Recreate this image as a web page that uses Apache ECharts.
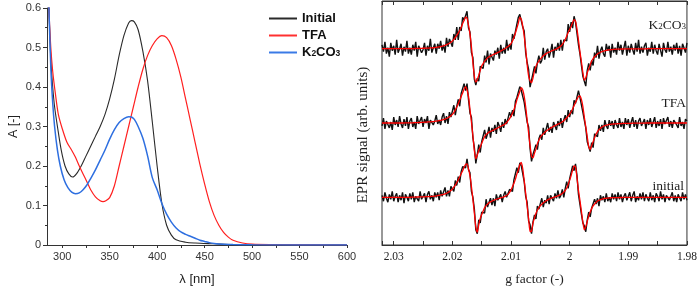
<!DOCTYPE html>
<html><head><meta charset="utf-8">
<script src="https://cdn.jsdelivr.net/npm/echarts@6/dist/echarts.min.js"></script>
<style>html,body{margin:0;padding:0;background:#fff}#c{width:700px;height:291px}</style>
</head><body><div id="c"></div>
<script>
// ---------- UV-Vis panel (left) ----------
const uvInitialNm = [284,286,288,290,292,295,299,303,307,311,315,320,325,330,335,340,345,350,355,360,365,370,373,376,380,385,390,395,400,405,410,415,420,430,440,460,480,520,600];
const uvInitialA  = [0.75,0.6,0.47,0.40,0.35,0.30,0.24,0.20,0.18,0.172,0.18,0.2,0.225,0.25,0.275,0.30,0.33,0.37,0.42,0.48,0.53,0.562,0.568,0.565,0.545,0.49,0.415,0.31,0.2,0.105,0.05,0.025,0.013,0.007,0.005,0.003,0.001,0.0003,0];
const uvTfaNm = [284,286,288,290,293,296,300,305,310,314,318,322,326,330,335,340,343,346,350,355,360,365,370,375,380,385,390,395,400,405,410,415,420,425,430,435,440,445,450,455,460,465,470,475,480,490,500,520,600];
const uvTfaA  = [0.75,0.6,0.5,0.44,0.38,0.33,0.295,0.26,0.24,0.222,0.2,0.18,0.16,0.14,0.122,0.112,0.11,0.112,0.12,0.15,0.2,0.25,0.3,0.35,0.4,0.445,0.48,0.505,0.522,0.53,0.525,0.505,0.47,0.425,0.37,0.315,0.26,0.205,0.155,0.11,0.075,0.05,0.032,0.02,0.012,0.005,0.002,0.001,0];
const uvK2co3Nm = [284,286,288,290,292,295,298,302,306,310,314,318,322,326,330,335,340,345,350,355,360,365,370,373,376,380,385,390,395,400,405,410,415,420,425,430,435,440,445,450,455,460,470,480,500,600];
const uvK2co3A  = [0.75,0.6,0.45,0.36,0.30,0.24,0.2,0.165,0.145,0.134,0.13,0.132,0.14,0.152,0.168,0.19,0.215,0.24,0.268,0.292,0.31,0.32,0.325,0.324,0.318,0.3,0.27,0.225,0.17,0.14,0.105,0.078,0.058,0.043,0.033,0.027,0.022,0.017,0.012,0.009,0.006,0.004,0.002,0.001,0.0005,0];
const uvTicks = [300,325,350,375,400,425,450,475,500,525,550,575,600];
const uvLabels = [300,350,400,450,500,550,600];

// ---------- EPR panel (right): g grid sampled from 2.032 down to 1.980 ----------
const gStart = 2.032, gStep = -0.00025;   // 209 samples
const eprK2co3Raw = [
4,-3,7,-5,1,-8,6,-2,3,-6,9,-4,0,5,-7,2,-3,8,-5,1,
-6,4,-2,7,-8,3,5,-4,-1,6,-7,3,-2,10,-4,1,5,-5,5,0,
8,-2,4,-4,11,2,10,6,2,15,9,22,9,22,18,32,29,27,38,21,
17,-4,-9,-31,-37,-30,-33,-18,-17,-20,-7,-14,-2,-16,-5,-3,-12,-2,-6,1,
-10,4,-5,1,-5,9,-2,5,-1,15,10,11,25,32,35,33,22,18,-4,-14,
-21,-39,-32,-32,-18,-25,-14,-7,-15,-12,1,-11,-3,0,-9,-3,5,-9,2,-2,
6,-2,9,-2,9,10,8,25,17,27,21,33,27,27,4,-5,-7,-28,-27,-38,
-22,-15,-22,-12,-17,-4,-9,3,-10,-2,2,-5,-8,5,-2,3,-9,5,-4,1,
-6,7,-2,4,-6,1,8,-7,3,-4,5,-1,-6,6,-3,9,-5,2,-4,3,
6,-7,1,-3,7,-5,4,-2,-6,5,3,-8,6,-1,-4,7,-3,2,-6,4,
-2,6,-5,3,-7,5,1,-4,6];
const eprK2co3Fit = [
0,0,0,0,0,0,0,0,0,0,0,0,0,0,0,0,0,0,0,0,
0.1,0.1,0.2,0.2,0.3,0.3,0.4,0.4,0.5,0.5,0.6,0.7,0.7,0.8,0.9,1.0,1.2,1.4,1.6,1.9,
2.2,2.6,3.0,3.5,4.2,4.8,5.6,6.6,7.8,9.5,11.4,13.5,16,18.5,21.5,25.5,29,32,31,24,
15,2,-14,-28,-34,-31.5,-27,-22,-17.5,-15,-12.5,-11,-9.2,-8.2,-7.4,-6.6,-5.8,-5.2,-4.5,-3.8,
-3.1,-2.3,-1.5,-0.7,0.2,1.2,2.2,3.6,5.3,7.8,11.5,16,21,26,32,30,23,13,0,-16,
-27.5,-32.5,-34.5,-29.5,-22.5,-18,-14.8,-12.5,-10.5,-8.8,-7.2,-6.0,-5.0,-4.1,-3.4,-2.7,-2.0,-1.4,-0.8,-0.2,
0.6,1.6,2.8,4.5,6.6,9.3,12.8,16.5,19.5,22.8,26.5,29.5,28,20,9,-3,-13,-24,-32,-29.5,
-24.5,-20.5,-16.5,-12.5,-10,-8.2,-6.6,-5.3,-4.4,-3.6,-2.9,-2.4,-2,-1.6,-1.3,-1.1,-0.9,-0.8,-0.7,-0.6,
-0.5,-0.4,-0.4,-0.3,-0.3,-0.3,-0.2,-0.2,-0.2,-0.2,-0.2,-0.2,-0.2,-0.1,-0.1,-0.1,-0.1,-0.1,-0.1,-0.1,
-0.1,0,0,0,0,0,0,0,0,0,0,0,0,0,0,0,0,0,0,0,
0,0,0,0,0,0,0,0,0];
const eprTfaRaw = [
-3,5,-6,2,4,-5,1,-7,6,-2,3,-4,7,-1,-5,4,-3,6,-6,2,
5,-4,1,-6,7,-1,-2,6,-4,4,0,7,-6,3,5,-2,2,8,-1,3,
-2,6,10,0,7,-1,11,6,6,18,8,17,24,17,30,29,40,33,40,24,
10,6,-15,-25,-41,-32,-22,-30,-19,-20,-7,-16,-11,-4,-15,-5,-9,-2,-11,1,
-3,-9,1,-5,4,-1,-3,11,6,13,7,22,26,24,37,33,35,21,21,1,
-4,-26,-39,-32,-32,-22,-27,-16,-12,-17,-5,-12,-13,0,-9,-4,-10,1,-1,-7,
2,-3,5,-5,3,8,1,13,6,13,9,23,20,20,33,26,27,11,10,-5,
-19,-18,-29,-20,-25,-11,-11,-14,-2,-8,-2,-9,3,-3,-6,3,-3,2,-6,3,
-2,-5,5,-4,1,-6,5,-2,4,-5,1,6,-4,3,-6,2,5,-3,-1,4,
-6,3,-2,5,-4,1,6,-5,2,-3,4,-6,5,-1,-3,6,-4,2,-5,3,
4,-2,-5,6,-3,1,-6,4,2];
const eprTfaFit = [
0,0,0,0,0,0,0,0,0,0,0,0,0,0,0,0,0.1,0.1,0.1,0.1,
0.2,0.2,0.3,0.3,0.4,0.5,0.5,0.6,0.7,0.8,0.9,1.0,1.1,1.2,1.4,1.5,1.7,1.9,2.1,2.4,
2.7,3.1,3.5,4.0,4.6,5.3,6.2,7.3,8.8,10.6,13.3,16.2,19.5,23.3,27,30.5,34.5,37,33.5,27,
14,1,-13,-28,-36.5,-32.5,-28,-24.5,-20.5,-17,-13.8,-11.8,-10.5,-9.3,-8.6,-7.9,-7.2,-6.4,-5.8,-5.1,
-4.1,-3.3,-2.6,-1.9,-0.9,0.5,2.4,4.5,7,10,13.5,18,23.5,28,32,36,33.5,27,16.5,3,
-10,-23,-34,-35.5,-30.5,-26.5,-21,-17.5,-14.5,-12.6,-11,-9.5,-8.1,-7.1,-6.2,-5.2,-4.2,-3.4,-2.6,-1.9,
-1.2,-0.5,0.2,1.2,2.4,3.8,5.3,7,8.8,11.4,14.3,17.5,21,24,27,27.5,24,17,6,-4,
-14,-24,-27,-23,-19,-15,-11.5,-8.7,-6.8,-5.3,-4.2,-3.3,-2.7,-2.2,-1.8,-1.5,-1.3,-1.1,-1.0,-0.9,
-0.8,-0.7,-0.6,-0.6,-0.5,-0.4,-0.4,-0.4,-0.3,-0.3,-0.3,-0.2,-0.2,-0.2,-0.2,-0.1,-0.1,-0.1,-0.1,-0.1,
0,0,0,0,0,0,0,0,0,0,0,0,0,0,0,0,0,0,0,0,
0,0,0,0,0,0,0,0,0];
const eprInitialRaw = [
2,-4,5,-1,-5,3,-2,6,-4,1,4,-5,2,-3,5,-6,3,0,-4,4,
-2,5,-5,1,3,-4,6,-2,-3,4,-5,3,6,-2,2,-4,5,0,5,-3,
7,1,-1,10,1,7,1,11,9,6,17,12,21,15,26,31,29,30,39,28,
25,6,0,-12,-33,-37,-23,-26,-15,-16,-16,-2,-10,-5,-1,-8,-1,-9,3,-3,
-4,3,-5,2,6,0,-1,8,9,6,18,17,30,25,35,32,34,16,1,-5,
-24,-28,-37,-25,-18,-22,-9,-12,-12,-1,-10,-3,-6,2,-7,2,0,-4,4,-1,
7,-1,2,8,0,9,16,9,19,20,32,27,34,22,3,2,-17,-26,-29,-35,
-23,-15,-20,-11,-12,-2,-7,-1,-9,2,-3,1,-5,4,-4,0,-5,4,-2,3,
-4,5,-2,3,-5,1,4,-3,-2,5,-4,2,6,-5,1,-3,4,-2,5,-4,
3,-1,-4,5,-3,2,-5,4,1,-4,6,-2,3,-5,2,4,-3,-1,5,-4,
2,-5,3,1,-4,5,-2,3,-3];
const eprInitialFit = [
0,0,0,0,0,0,0,0,0,0,0,0,0,0,0,0,0,0,0,0,
0.1,0.1,0.2,0.2,0.3,0.3,0.4,0.4,0.5,0.5,0.6,0.7,0.7,0.8,0.9,1.0,1.2,1.4,1.7,2.0,
2.3,2.6,3.0,3.5,4.1,4.9,5.8,6.9,8.3,10.3,12.3,15,17.8,20.8,24,27,30.5,33.5,34,29,
22,11,-2,-16,-30,-35.5,-28,-21.5,-17.5,-14,-10.5,-8.4,-7,-5.5,-4.6,-3.9,-3.2,-2.5,-2,-1.5,
-1,-0.6,-0.1,0.4,1,1.8,3,4.9,7.5,10.8,14.3,18.5,23.8,28,33,35.5,29,17,4,-9,
-22,-35,-34.5,-26,-21,-16.5,-13,-10.5,-8.5,-7,-5.6,-4.6,-3.6,-2.6,-1.8,-1.1,-0.5,0,0.4,0.9,
1.5,2.2,3,3.9,5.2,7,9.5,13,17.5,22,27.5,32,31,20,7,-3,-14,-25,-33,-30,
-24.5,-19,-15,-11.5,-8.8,-6.8,-5.3,-3.7,-3,-2.4,-1.8,-1.4,-1.2,-1,-0.8,-0.6,-0.5,-0.4,-0.4,-0.3,
-0.3,-0.3,-0.2,-0.2,-0.2,-0.1,-0.1,-0.1,-0.1,-0.1,-0.1,-0.1,-0.1,-0.1,-0.1,-0.1,-0.1,-0.1,-0.1,-0.1,
0,0,0,0,0,0,0,0,0,0,0,0,0,0,0,0,0,0,0,0,
0,0,0,0,0,0,0,0,0];

// vertical stacking of the three EPR traces (arbitrary offset, as in the figure)
const eprOffset = {k2co3: 199.5, tfa: 124, initial: 48.5};

const zip = (xs, ys) => xs.map((x, i) => [x, ys[i]]);
const eprPairs = (vals, off) => vals.map((v, i) => [+(gStart + gStep * i).toFixed(5), v + off]);

const sans = 'Liberation Sans, Arial, sans-serif';
const serif = 'Liberation Serif, Times New Roman, serif';
const axisCol = '#333';

const chart = echarts.init(document.getElementById('c'), null, {renderer: 'canvas'});

chart.setOption({
  animation: false,
  backgroundColor: '#fff',
  grid: [
    {left: 47, top: 8, width: 300, height: 241},
    {left: 382, top: 1, width: 308, height: 248, show: true, borderColor: '#333', borderWidth: 1}
  ],
  legend: {
    left: 264, top: 7, orient: 'vertical', icon: 'rect', itemWidth: 28, itemHeight: 2, itemGap: 4,
    data: ['Initial', 'TFA', 'K2CO3'],
    formatter: n => n === 'K2CO3' ? '{b|K}{s|2}{b|CO}{s|3}' : '{b|' + n + '}',
    textStyle: {rich: {
      b: {fontFamily: sans, fontSize: 13, fontWeight: 'bold', color: '#111', lineHeight: 12},
      s: {fontFamily: sans, fontSize: 8.5, fontWeight: 'bold', color: '#111', lineHeight: 4, verticalAlign: 'bottom'}
    }}
  },
  xAxis: [
    {gridIndex: 0, type: 'value', min: 284, max: 600,
     axisLine: {lineStyle: {color: axisCol, width: 1}},
     axisTick: {show: true, customValues: uvTicks, length: 3, lineStyle: {color: axisCol}},
     axisLabel: {customValues: uvLabels, fontFamily: sans, fontSize: 11, color: '#333', margin: 6},
     splitLine: {show: false},
     name: 'λ [nm]', nameLocation: 'middle', nameGap: 28,
     nameTextStyle: {fontFamily: sans, fontSize: 13, color: '#222'}},
    {gridIndex: 1, type: 'value', min: 1.98, max: 2.032, interval: 0.01, inverse: true,
     axisLine: {onZero: false, lineStyle: {color: axisCol}},
     axisTick: {inside: true, length: 4, lineStyle: {color: axisCol}},
     minorTick: {show: true, splitNumber: 2, length: 4, lineStyle: {color: axisCol}},
     axisLabel: {formatter: v => String(+v.toFixed(2)), fontFamily: serif, fontSize: 11.5, color: '#222', margin: 6},
     splitLine: {show: false}, minorSplitLine: {show: false},
     name: 'g factor (-)', nameLocation: 'middle', nameGap: 27,
     nameTextStyle: {fontFamily: serif, fontSize: 13.5, color: '#222'}},
    {gridIndex: 1, type: 'value', position: 'top', min: 1.98, max: 2.032, interval: 0.01, inverse: true,
     axisLine: {onZero: false, lineStyle: {color: axisCol}},
     axisTick: {inside: true, length: 4, lineStyle: {color: axisCol}},
     minorTick: {show: true, splitNumber: 2, length: 4, lineStyle: {color: axisCol}},
     axisLabel: {show: false}, splitLine: {show: false}}
  ],
  yAxis: [
    {gridIndex: 0, type: 'value', min: 0, max: 0.6, interval: 0.1,
     axisLine: {show: true, lineStyle: {color: axisCol}},
     axisTick: {show: true, length: 4, lineStyle: {color: axisCol}},
     minorTick: {show: true, splitNumber: 2, length: 2, lineStyle: {color: axisCol}},
     axisLabel: {formatter: v => v === 0 ? '0' : v.toFixed(1), fontFamily: sans, fontSize: 11, color: '#333', margin: 6},
     splitLine: {show: false},
     name: 'A [-]', nameLocation: 'middle', nameGap: 27,
     nameTextStyle: {fontFamily: sans, fontSize: 12.5, color: '#222'}},
    {gridIndex: 1, type: 'value', min: 0, max: 248,
     axisLine: {show: false}, axisTick: {show: false}, axisLabel: {show: false}, splitLine: {show: false}}
  ],
  series: [
    {name: 'Initial', type: 'line', xAxisIndex: 0, yAxisIndex: 0, showSymbol: false, symbol: 'none', smooth: 0.3,
     data: zip(uvInitialNm, uvInitialA), lineStyle: {color: '#2a2a2a', width: 1.1}, itemStyle: {color: '#2a2a2a'}},
    {name: 'TFA', type: 'line', xAxisIndex: 0, yAxisIndex: 0, showSymbol: false, symbol: 'none', smooth: 0.3,
     data: zip(uvTfaNm, uvTfaA), lineStyle: {color: '#ff2020', width: 1.2}, itemStyle: {color: '#ff3030'}},
    {name: 'K2CO3', type: 'line', xAxisIndex: 0, yAxisIndex: 0, showSymbol: false, symbol: 'none', smooth: 0.3,
     data: zip(uvK2co3Nm, uvK2co3A), lineStyle: {color: '#2e6fe0', width: 1.5}, itemStyle: {color: '#3a7ae6'}},

    {name: 'EPR K2CO3', type: 'line', xAxisIndex: 1, yAxisIndex: 1, showSymbol: false, symbol: 'none',
     data: eprPairs(eprK2co3Raw, eprOffset.k2co3), lineStyle: {color: '#111', width: 1.4}},
    {name: 'EPR TFA', type: 'line', xAxisIndex: 1, yAxisIndex: 1, showSymbol: false, symbol: 'none',
     data: eprPairs(eprTfaRaw, eprOffset.tfa), lineStyle: {color: '#111', width: 1.4}},
    {name: 'EPR initial', type: 'line', xAxisIndex: 1, yAxisIndex: 1, showSymbol: false, symbol: 'none',
     data: eprPairs(eprInitialRaw, eprOffset.initial), lineStyle: {color: '#111', width: 1.4}},
    {name: 'fit K2CO3', type: 'line', xAxisIndex: 1, yAxisIndex: 1, showSymbol: false, symbol: 'none', smooth: 0.2,
     data: eprPairs(eprK2co3Fit, eprOffset.k2co3), lineStyle: {color: '#ff0000', width: 1.3}},
    {name: 'fit TFA', type: 'line', xAxisIndex: 1, yAxisIndex: 1, showSymbol: false, symbol: 'none', smooth: 0.2,
     data: eprPairs(eprTfaFit, eprOffset.tfa), lineStyle: {color: '#ff0000', width: 1.3}},
    {name: 'fit initial', type: 'line', xAxisIndex: 1, yAxisIndex: 1, showSymbol: false, symbol: 'none', smooth: 0.2,
     data: eprPairs(eprInitialFit, eprOffset.initial), lineStyle: {color: '#ff0000', width: 1.3}}
  ],
  graphic: [
    {type: 'text', x: 363, y: 135, rotation: Math.PI / 2, z: 100,
     style: {text: 'EPR signal (arb. units)', align: 'center', verticalAlign: 'middle', fill: '#222', font: '15px "Liberation Serif"'}},
    {type: 'text', x: 686, y: 25, z: 100, style: {text: '{a|K}{s|2}{a|CO}{s|3}', align: 'right', verticalAlign: 'middle',
      rich: {a: {fontFamily: serif, fontSize: 13.5, fill: '#222', lineHeight: 12}, s: {fontFamily: serif, fontSize: 9, fill: '#222', lineHeight: 4, verticalAlign: 'bottom'}}}},
    {type: 'text', x: 686, y: 103, z: 100, style: {text: 'TFA', align: 'right', verticalAlign: 'middle', fill: '#222', font: '13.5px "Liberation Serif"'}},
    {type: 'text', x: 684, y: 186, z: 100, style: {text: 'initial', align: 'right', verticalAlign: 'middle', fill: '#222', font: '13.5px "Liberation Serif"'}}
  ]
});
</script></body></html>
